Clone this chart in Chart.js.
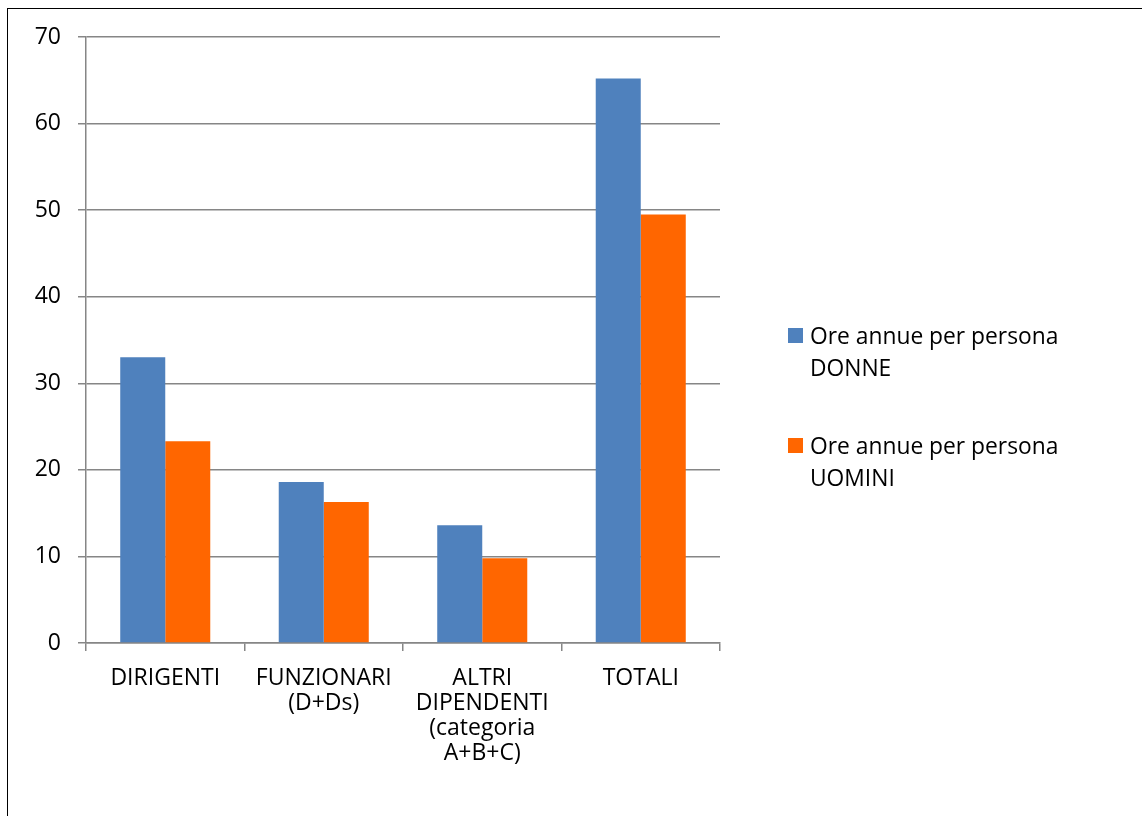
<!DOCTYPE html>
<html>
<head>
<meta charset="utf-8">
<script src="https://cdn.jsdelivr.net/npm/chart.js@4/dist/chart.umd.min.js"></script>
<style>
  html, body { margin: 0; padding: 0; background: #fff; }
  #wrap { position: relative; width: 1142px; height: 816px; overflow: hidden; }
  #frame { position: absolute; left: 7px; top: 8px; width: 1200px; height: 900px;
           border-left: 1.5px solid #000; border-top: 1.5px solid #000; box-sizing: border-box; }
  canvas { position: absolute; left: 0; top: 0; }
  #legend { position: absolute; left: 788px; top: 320px; font-family: "Open Sans", "Liberation Sans", sans-serif;
            font-size: 22.8px; color: #000; }
  .item { position: relative; padding-left: 22px; width: 275px; line-height: 32px; margin-bottom: 46px; }
  .sw { position: absolute; left: 0; top: 8px; width: 15px; height: 15px; }
</style>
</head>
<body>
<div id="wrap">
  <div id="frame"></div>
  <canvas id="c" width="1142" height="816"></canvas>
  <div id="legend"></div>
</div>
<script>
// Categories (multi-line axis labels)
const categories = [
  ["DIRIGENTI"],
  ["FUNZIONARI", "(D+Ds)"],
  ["ALTRI", "DIPENDENTI", "(categoria", "A+B+C)"],
  ["TOTALI"]
];
// Annual hours per person
const donne  = [33.0, 18.6, 13.6, 65.2];
const uomini = [23.3, 16.3, 9.8, 49.5];
const seriesNames = ["Ore annue per persona DONNE", "Ore annue per persona UOMINI"];
const seriesColors = ["#4F81BD", "#FF6600"];

const FONT = "'Open Sans', 'Liberation Sans', sans-serif";
const GRID = "#868686";

const chart = new Chart(document.getElementById("c"), {
  type: "bar",
  data: {
    labels: categories,
    datasets: [
      { label: seriesNames[0], data: donne,  backgroundColor: seriesColors[0] },
      { label: seriesNames[1], data: uomini, backgroundColor: seriesColors[1] }
    ]
  },
  options: {
    responsive: false,
    animation: false,
    devicePixelRatio: 1,
    layout: { padding: { top: 37, right: 422, bottom: 0, left: 0 } },
    datasets: { bar: { categoryPercentage: 0.568, barPercentage: 1.0 } },
    plugins: { legend: { display: false }, tooltip: { enabled: false } },
    scales: {
      x: {
        grid: { offset: true, drawOnChartArea: false, drawTicks: true, tickLength: 8, color: GRID, lineWidth: 1.5 },
        border: { color: GRID, width: 1.5 },
        ticks: { color: "#000", font: { family: FONT, size: 23, lineHeight: 1.085 }, padding: 15, maxRotation: 0, autoSkip: false },
        afterFit: s => { s.height = 173; }
      },
      y: {
        min: 0, max: 70,
        grid: { color: GRID, lineWidth: 1.5, tickLength: 8 },
        border: { color: GRID, width: 1.5 },
        ticks: { stepSize: 10, color: "#000", font: { family: FONT, size: 23 }, padding: 17 },
        afterFit: s => { s.width = 86; }
      }
    }
  }
});

// Legend built from the chart's datasets
const legend = document.getElementById("legend");
chart.data.datasets.forEach(ds => {
  const item = document.createElement("div");
  item.className = "item";
  const sw = document.createElement("span");
  sw.className = "sw";
  sw.style.background = ds.backgroundColor;
  item.appendChild(sw);
  item.appendChild(document.createTextNode(ds.label));
  legend.appendChild(item);
});
</script>
</body>
</html>
